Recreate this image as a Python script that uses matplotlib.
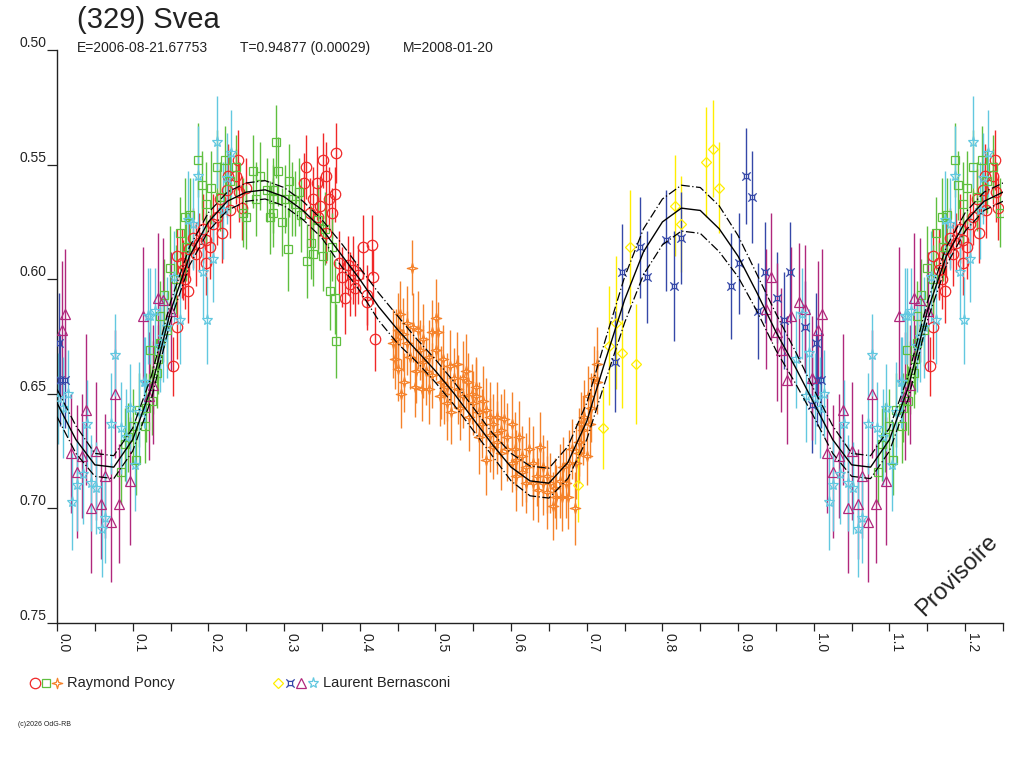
import matplotlib

matplotlib.use("Agg")
import matplotlib.pyplot as plt
import numpy as np
from matplotlib.lines import Line2D
from matplotlib.path import Path

plt.rcParams["font.family"] = ["Liberation Sans", "DejaVu Sans"]

INK = "#222222"

# --- fitted light curve, phase 0..1 ---
curve_phase = [0.000, 0.025, 0.050, 0.075, 0.100, 0.125, 0.150, 0.175, 0.200, 0.225,
               0.250, 0.275, 0.300, 0.325, 0.350, 0.375, 0.400, 0.425, 0.450, 0.475,
               0.500, 0.525, 0.550, 0.575, 0.600, 0.625, 0.650, 0.675, 0.700, 0.725,
               0.750, 0.775, 0.800, 0.825, 0.850, 0.875, 0.900, 0.925, 0.950, 0.975, 1.000]
curve_mag = [0.654, 0.670, 0.681, 0.682, 0.670, 0.647, 0.614, 0.590, 0.575, 0.566,
             0.562, 0.561, 0.564, 0.570, 0.578, 0.589, 0.600, 0.612, 0.622, 0.631,
             0.640, 0.650, 0.661, 0.672, 0.682, 0.688, 0.689, 0.680, 0.662, 0.635,
             0.609, 0.588, 0.575, 0.569, 0.570, 0.578, 0.590, 0.606, 0.623, 0.638, 0.654]
curve_band = [0.006, 0.006, 0.005, 0.005, 0.005, 0.005, 0.004, 0.004, 0.004, 0.004,
              0.004, 0.004, 0.004, 0.004, 0.004, 0.005, 0.005, 0.006, 0.006, 0.005,
              0.005, 0.005, 0.005, 0.005, 0.006, 0.0065, 0.0065, 0.007, 0.008, 0.009,
              0.010, 0.010, 0.010, 0.010, 0.010, 0.010, 0.009, 0.008, 0.008, 0.007, 0.006]

# --- observations: (phase, magnitude, error) ---
poncy_circle = [
    (0.329, 0.551, 0.014), (0.369, 0.545, 0.013), (0.351, 0.548, 0.012), (0.343, 0.558, 0.016),
    (0.327, 0.558, 0.013), (0.356, 0.555, 0.015), (0.367, 0.563, 0.012), (0.360, 0.565, 0.014),
    (0.347, 0.568, 0.013), (0.334, 0.571, 0.015), (0.364, 0.571, 0.011), (0.345, 0.573, 0.014),
    (0.373, 0.593, 0.014), (0.384, 0.594, 0.013), (0.404, 0.586, 0.014), (0.416, 0.585, 0.013),
    (0.417, 0.599, 0.012), (0.391, 0.596, 0.015), (0.376, 0.599, 0.013), (0.380, 0.608, 0.016),
    (0.409, 0.607, 0.013), (0.409, 0.610, 0.012), (0.420, 0.626, 0.014), (0.387, 0.602, 0.014),
    (0.394, 0.604, 0.012), (0.355, 0.580, 0.013), (0.338, 0.565, 0.014), (0.398, 0.598, 0.013),
    (0.153, 0.638, 0.013), (0.173, 0.605, 0.014), (0.169, 0.600, 0.013), (0.165, 0.593, 0.015),
    (0.158, 0.590, 0.012), (0.184, 0.589, 0.014), (0.188, 0.584, 0.013), (0.197, 0.583, 0.012),
    (0.202, 0.586, 0.014), (0.206, 0.576, 0.013), (0.211, 0.573, 0.012), (0.244, 0.569, 0.014),
    (0.241, 0.562, 0.013), (0.237, 0.555, 0.012), (0.239, 0.548, 0.013), (0.226, 0.555, 0.014),
    (0.250, 0.560, 0.013), (0.224, 0.561, 0.012), (0.215, 0.565, 0.013), (0.193, 0.578, 0.015),
    (0.180, 0.582, 0.013), (0.158, 0.621, 0.014), (0.166, 0.596, 0.013), (0.197, 0.593, 0.014),
    (0.175, 0.587, 0.012), (0.228, 0.570, 0.012), (0.218, 0.580, 0.013),
]
poncy_square = [
    (0.132, 0.641, 0.015), (0.123, 0.631, 0.016), (0.149, 0.595, 0.018), (0.169, 0.573, 0.017),
    (0.186, 0.548, 0.016), (0.191, 0.559, 0.015), (0.197, 0.567, 0.018), (0.211, 0.551, 0.016),
    (0.215, 0.564, 0.015), (0.237, 0.551, 0.014), (0.259, 0.553, 0.016), (0.268, 0.555, 0.015),
    (0.263, 0.565, 0.016), (0.277, 0.561, 0.014), (0.290, 0.540, 0.016), (0.292, 0.553, 0.015),
    (0.307, 0.557, 0.016), (0.297, 0.575, 0.015), (0.281, 0.573, 0.016), (0.305, 0.587, 0.018),
    (0.250, 0.573, 0.014), (0.246, 0.571, 0.015), (0.311, 0.565, 0.016), (0.285, 0.565, 0.015),
    (0.162, 0.580, 0.016), (0.171, 0.586, 0.015), (0.145, 0.622, 0.016), (0.136, 0.616, 0.015),
    (0.285, 0.561, 0.014), (0.301, 0.565, 0.015), (0.314, 0.567, 0.014), (0.323, 0.572, 0.016),
    (0.285, 0.571, 0.015), (0.336, 0.584, 0.016), (0.345, 0.574, 0.015), (0.354, 0.578, 0.016),
    (0.363, 0.586, 0.015), (0.338, 0.589, 0.014), (0.330, 0.592, 0.016), (0.351, 0.590, 0.015),
    (0.361, 0.605, 0.017), (0.367, 0.608, 0.016), (0.369, 0.627, 0.016), (0.320, 0.562, 0.015),
    (0.085, 0.684, 0.014), (0.090, 0.672, 0.016), (0.094, 0.669, 0.015), (0.100, 0.664, 0.016),
    (0.105, 0.679, 0.015), (0.109, 0.657, 0.016), (0.118, 0.656, 0.015), (0.116, 0.664, 0.016),
    (0.125, 0.653, 0.015), (0.127, 0.643, 0.016), (0.134, 0.635, 0.015), (0.136, 0.628, 0.016),
    (0.203, 0.560, 0.016), (0.222, 0.548, 0.015), (0.229, 0.557, 0.014), (0.176, 0.572, 0.016),
    (0.157, 0.600, 0.015), (0.141, 0.607, 0.016),
]
poncy_star4 = [
    (0.469, 0.595, 0.012), (0.453, 0.615, 0.014), (0.450, 0.622, 0.016), (0.448, 0.626, 0.013),
    (0.450, 0.639, 0.014), (0.455, 0.650, 0.015), (0.459, 0.645, 0.013), (0.462, 0.619, 0.016),
    (0.463, 0.628, 0.014), (0.470, 0.621, 0.015), (0.473, 0.647, 0.013), (0.477, 0.622, 0.017),
    (0.482, 0.648, 0.014), (0.480, 0.631, 0.013), (0.484, 0.626, 0.015), (0.492, 0.634, 0.016),
    (0.496, 0.623, 0.014), (0.501, 0.617, 0.017), (0.503, 0.623, 0.013), (0.488, 0.640, 0.015),
    (0.495, 0.642, 0.014), (0.508, 0.645, 0.016), (0.512, 0.650, 0.013), (0.515, 0.647, 0.015),
    (0.521, 0.658, 0.014), (0.519, 0.638, 0.016), (0.525, 0.643, 0.013), (0.530, 0.648, 0.015),
    (0.536, 0.651, 0.014), (0.541, 0.640, 0.016), (0.543, 0.645, 0.013), (0.545, 0.660, 0.015),
    (0.550, 0.654, 0.014), (0.554, 0.651, 0.016), (0.558, 0.658, 0.013), (0.561, 0.663, 0.015),
    (0.567, 0.657, 0.014), (0.572, 0.668, 0.016), (0.576, 0.663, 0.013), (0.581, 0.660, 0.015),
    (0.582, 0.671, 0.014), (0.587, 0.666, 0.016), (0.591, 0.661, 0.013), (0.595, 0.669, 0.015),
    (0.601, 0.663, 0.014), (0.605, 0.674, 0.016), (0.607, 0.679, 0.013), (0.567, 0.679, 0.015),
    (0.576, 0.673, 0.014), (0.611, 0.669, 0.016), (0.615, 0.677, 0.013), (0.620, 0.682, 0.015),
    (0.624, 0.674, 0.014), (0.629, 0.680, 0.016), (0.634, 0.686, 0.013), (0.638, 0.673, 0.015),
    (0.642, 0.682, 0.014), (0.647, 0.693, 0.016), (0.651, 0.689, 0.013), (0.655, 0.699, 0.015),
    (0.660, 0.695, 0.014), (0.664, 0.688, 0.016), (0.668, 0.682, 0.013), (0.673, 0.689, 0.015),
    (0.677, 0.680, 0.014), (0.684, 0.700, 0.016), (0.681, 0.674, 0.013), (0.690, 0.671, 0.015),
    (0.693, 0.663, 0.014), (0.697, 0.660, 0.016), (0.701, 0.651, 0.013), (0.706, 0.656, 0.015),
    (0.710, 0.643, 0.014), (0.713, 0.637, 0.016), (0.700, 0.677, 0.013), (0.695, 0.666, 0.015),
    (0.642, 0.689, 0.014), (0.629, 0.689, 0.016), (0.620, 0.689, 0.013), (0.607, 0.686, 0.015),
    (0.594, 0.674, 0.014), (0.558, 0.669, 0.016), (0.554, 0.647, 0.013), (0.572, 0.660, 0.015),
    (0.532, 0.656, 0.014), (0.515, 0.654, 0.016), (0.506, 0.651, 0.013), (0.492, 0.648, 0.015),
    (0.475, 0.640, 0.014), (0.457, 0.624, 0.016), (0.446, 0.635, 0.013), (0.444, 0.628, 0.015),
    (0.466, 0.634, 0.014), (0.484, 0.636, 0.016), (0.501, 0.631, 0.013), (0.510, 0.635, 0.015),
    (0.528, 0.637, 0.014), (0.536, 0.643, 0.016), (0.548, 0.650, 0.013), (0.563, 0.653, 0.015),
    (0.581, 0.667, 0.014), (0.587, 0.676, 0.016), (0.601, 0.680, 0.013), (0.614, 0.684, 0.015),
    (0.635, 0.692, 0.014), (0.647, 0.686, 0.016), (0.658, 0.691, 0.013), (0.667, 0.695, 0.015),
    (0.675, 0.695, 0.014), (0.686, 0.680, 0.016), (0.690, 0.676, 0.013), (0.704, 0.663, 0.015),
    (0.714, 0.645, 0.014),
]
bern_diamond = [
    (0.867, 0.543, 0.021), (0.858, 0.549, 0.024), (0.875, 0.560, 0.020), (0.816, 0.568, 0.022),
    (0.825, 0.576, 0.021), (0.757, 0.586, 0.025), (0.739, 0.619, 0.029), (0.730, 0.629, 0.026),
    (0.747, 0.632, 0.024), (0.765, 0.637, 0.026), (0.722, 0.665, 0.018), (0.688, 0.690, 0.016),
]
bern_cross = [
    (0.910, 0.555, 0.021), (0.918, 0.564, 0.020), (0.746, 0.597, 0.021), (0.771, 0.586, 0.022),
    (0.779, 0.599, 0.020), (0.805, 0.583, 0.022), (0.815, 0.603, 0.024), (0.824, 0.582, 0.020),
    (0.891, 0.603, 0.023), (0.901, 0.593, 0.022), (0.926, 0.614, 0.021), (0.935, 0.597, 0.022),
    (0.952, 0.608, 0.020), (0.961, 0.618, 0.021), (0.969, 0.597, 0.022), (0.737, 0.636, 0.022),
    (0.988, 0.621, 0.020), (0.997, 0.655, 0.021), (0.004, 0.644, 0.020), (0.010, 0.644, 0.021),
    (0.003, 0.628, 0.022),
]
bern_triangle = [
    (0.943, 0.599, 0.028), (0.937, 0.613, 0.026), (0.951, 0.623, 0.030), (0.957, 0.631, 0.027),
    (0.964, 0.644, 0.028), (0.970, 0.616, 0.030), (0.981, 0.610, 0.026), (0.988, 0.613, 0.028),
    (0.997, 0.643, 0.027), (0.006, 0.622, 0.030), (0.011, 0.615, 0.028), (0.018, 0.676, 0.026),
    (0.026, 0.684, 0.029), (0.033, 0.677, 0.027), (0.038, 0.657, 0.033), (0.045, 0.700, 0.028),
    (0.051, 0.675, 0.030), (0.058, 0.698, 0.024), (0.064, 0.686, 0.027), (0.071, 0.706, 0.026),
    (0.077, 0.650, 0.028), (0.082, 0.698, 0.026), (0.096, 0.688, 0.028), (0.113, 0.616, 0.030),
    (0.121, 0.651, 0.028), (0.127, 0.646, 0.026), (0.133, 0.608, 0.028), (0.140, 0.609, 0.027),
    (0.151, 0.614, 0.026),
]
bern_star = [
    (0.001, 0.652, 0.020), (0.008, 0.656, 0.022), (0.014, 0.650, 0.019), (0.020, 0.697, 0.021),
    (0.026, 0.690, 0.020), (0.034, 0.685, 0.022), (0.040, 0.663, 0.019), (0.045, 0.689, 0.021),
    (0.052, 0.691, 0.020), (0.059, 0.709, 0.021), (0.064, 0.704, 0.020), (0.071, 0.663, 0.022),
    (0.077, 0.633, 0.018), (0.084, 0.665, 0.020), (0.091, 0.669, 0.021), (0.096, 0.656, 0.019),
    (0.103, 0.681, 0.020), (0.108, 0.658, 0.022), (0.115, 0.645, 0.020), (0.120, 0.616, 0.021),
    (0.140, 0.625, 0.020), (0.198, 0.618, 0.019), (0.116, 0.645, 0.020), (0.123, 0.616, 0.021),
    (0.129, 0.614, 0.019), (0.136, 0.629, 0.020), (0.146, 0.621, 0.022), (0.155, 0.599, 0.020),
    (0.162, 0.618, 0.019), (0.173, 0.574, 0.021), (0.180, 0.576, 0.020), (0.186, 0.555, 0.022),
    (0.193, 0.597, 0.020), (0.206, 0.591, 0.019), (0.211, 0.540, 0.020), (0.219, 0.570, 0.021),
    (0.224, 0.556, 0.020), (0.230, 0.545, 0.019), (0.984, 0.615, 0.020), (0.977, 0.635, 0.021),
    (0.994, 0.632, 0.019), (0.990, 0.651, 0.020),
]

# marker shapes that matplotlib does not ship
star4 = Path([(0, 1), (0.22, 0.22), (1, 0), (0.22, -0.22), (0, -1),
              (-0.22, -0.22), (-1, 0), (-0.22, 0.22), (0, 1)], closed=True)
currency = Path(
    [(-0.5, -0.5), (0.5, -0.5), (0.5, 0.5), (-0.5, 0.5), (-0.5, -0.5),
     (0.5, 0.5), (1, 1), (-0.5, 0.5), (-1, 1), (0.5, -0.5), (1, -1), (-0.5, -0.5), (-1, -1)],
    [Path.MOVETO, Path.LINETO, Path.LINETO, Path.LINETO, Path.CLOSEPOLY,
     Path.MOVETO, Path.LINETO, Path.MOVETO, Path.LINETO, Path.MOVETO, Path.LINETO,
     Path.MOVETO, Path.LINETO],
)

series = [
    (poncy_circle, "#f02828", "o", 7.5),
    (poncy_square, "#5fbf3f", "s", 5.5),
    (poncy_star4, "#f5822a", star4, 7.5),
    (bern_diamond, "#ffee00", "D", 5.0),
    (bern_cross, "#3548a8", currency, 6.0),
    (bern_triangle, "#b0287c", "^", 6.5),
    (bern_star, "#62c8e0", "*", 8.0),
]


def wrap(rows):
    # light curve is shown past phase 1.0: repeat the first quarter
    return rows + [(p + 1.0, m, e) for p, m, e in rows if p < 0.25]


fig = plt.figure(figsize=(10.24, 7.68), dpi=100)
ax = fig.add_axes([57 / 1024, 1 - 623 / 768, (1003 - 57) / 1024, (623 - 50) / 768])

for rows, color, marker, size in series:
    ph, mag, err = np.array(wrap(rows)).T
    ax.errorbar(ph, mag, yerr=err, fmt="none", ecolor=color, elinewidth=1.0, capsize=0, zorder=2)
    ax.plot(ph, mag, ls="none", marker=marker, ms=size, mfc="none", mec=color, mew=0.9, zorder=3)

cph = np.array(curve_phase + [p + 1.0 for p in curve_phase if 0 < p <= 0.25])
cmag = np.array(curve_mag + [m for p, m in zip(curve_phase, curve_mag) if 0 < p <= 0.25])
cband = np.array(curve_band + [b for p, b in zip(curve_phase, curve_band) if 0 < p <= 0.25])
ax.plot(cph, cmag, color="black", lw=1.0, zorder=5)
ax.plot(cph, cmag - cband, color="black", lw=0.9, ls=(0, (7, 2, 1, 2)), zorder=5)
ax.plot(cph, cmag + cband, color="black", lw=0.9, ls=(0, (7, 2, 1, 2)), zorder=5)

ax.set_xlim(0, 1.25)
ax.set_ylim(0.75, 0.50)
for side in ("top", "right"):
    ax.spines[side].set_visible(False)
for side in ("left", "bottom"):
    ax.spines[side].set_color(INK)
    ax.spines[side].set_linewidth(1.0)

yt = [0.50, 0.55, 0.60, 0.65, 0.70, 0.75]
ax.set_yticks(yt)
ax.set_yticklabels([f"{v:.2f}" for v in yt], fontsize=10, color=INK, va="bottom")
ax.tick_params(axis="y", direction="out", length=7.2, width=0.9, color=INK, pad=0.5)

xt = [i / 10 for i in range(13)]
ax.set_xticks(xt)
ax.set_xticks([i / 20 for i in range(1, 26, 2)], minor=True)
ax.set_xticklabels([f"{v:.1f}" for v in xt], fontsize=10, color=INK, rotation=-90, ha="left", va="top")
ax.tick_params(axis="x", which="both", direction="out", length=5.8, width=0.9, color=INK, pad=1.5)

fig.text(957 / 1024, 1 - 576 / 768, "Provisoire", rotation=45,
         fontsize=17, color=INK, ha="center", va="center")

fig.text(77 / 1024, 1 - 20 / 768, "(329) Svea", fontsize=21, color=INK, ha="left", va="center")
for x0, txt in [(77, "E=2006-08-21.67753"), (240, "T=0.94877 (0.00029)"), (403, "M=2008-01-20")]:
    fig.text(x0 / 1024, 1 - 48 / 768, txt, fontsize=10, color=INK, ha="left", va="center")

# legend drawn in pixel space under the plot
lg = fig.add_axes([0, 0, 1, 1], facecolor="none")
lg.set_xlim(0, 1024)
lg.set_ylim(768, 0)
lg.axis("off")
legend_rows = [
    ([(35, "o", "#f02828", 7.5), (46, "s", "#5fbf3f", 5.5), (57, star4, "#f5822a", 7.5)], 67, "Raymond Poncy"),
    ([(278, "D", "#ffee00", 5.0), (290, currency, "#3548a8", 6.0), (301, "^", "#b0287c", 6.5),
      (313, "*", "#62c8e0", 8.0)], 323, "Laurent Bernasconi"),
]
for marks, tx, label in legend_rows:
    for mx, mk, col, ms in marks:
        lg.add_line(Line2D([mx], [683], ls="none", marker=mk, ms=ms, mfc="none", mec=col, mew=0.9))
    lg.text(tx, 683, label, fontsize=10.5, color=INK, ha="left", va="center")

fig.text(18 / 1024, 1 - 725 / 768, "(c)2026 OdG-RB", fontsize=5, color=INK, ha="left", va="center")

fig.savefig("out.png", dpi=100)
